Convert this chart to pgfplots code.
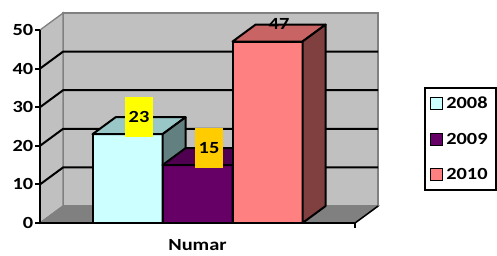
\documentclass[border=0pt]{standalone}
\usepackage{fontspec}
\setmainfont{Carlito}[FakeStretch=1.2]
\usepackage{pgfplots}
\pgfplotsset{compat=1.18}
\definecolor{wall}{HTML}{C0C0C0}
\definecolor{walledge}{HTML}{808080}
\definecolor{floorc}{HTML}{808080}
\definecolor{fA}{HTML}{CCFFFF}\definecolor{tA}{HTML}{99C6C6}\definecolor{sA}{HTML}{628080}
\definecolor{fB}{HTML}{660066}\definecolor{tB}{HTML}{500050}\definecolor{sB}{HTML}{330033}
\definecolor{fC}{HTML}{FF8080}\definecolor{tC}{HTML}{C86464}\definecolor{sC}{HTML}{804040}
\definecolor{labA}{HTML}{FFFF00}\definecolor{labB}{HTML}{FFCC00}
\newcommand\cf{\fontsize{17}{20}\selectfont\bfseries}
\begin{document}
\begin{tikzpicture}
\path[use as bounding box] (-40pt,-32pt) rectangle (457pt,223pt);
\begin{axis}[
 at={(0,0)}, anchor=origin,
 x=70pt, y=3.86pt,
 xmin=0, xmax=4.5, ymin=0, ymax=50,
 axis x line*=bottom, axis y line*=left,
 axis line style={black, line width=2.2pt},
 clip=false, axis on top,
 xtick={4.5}, xticklabels={},
 ytick={0,10,...,50},
 tick align=outside, major tick length=4.5pt,
 tick style={black, line width=2pt},
 yticklabel style={font=\cf, inner xsep=2pt},
 /pgf/number format/assume math mode=true,
 xlabel={Numar},
 xlabel style={font=\cf, at={(axis description cs:0.5,0)}, anchor=base, inner sep=0pt, yshift=-27.5pt},
 legend style={at={(axis description cs:1.219,0.705)}, anchor=north west, draw=black, line width=1.6pt, font=\cf, row sep=19pt, inner xsep=5pt, inner ysep=7pt, nodes={inner xsep=3.5pt}},
 legend cell align=left,
 legend image code/.code={\draw[#1, draw=black, line width=1pt] (0pt,-6pt) rectangle (12pt,6pt);},
]
% walls and floor
\addplot[forget plot, fill=wall, draw=walledge, line width=1.3pt] coordinates {(0.33,4.4)(4.83,4.4)(4.83,54.4)(0.33,54.4)} -- cycle;
\addplot[forget plot, fill=wall, draw=walledge, line width=1.3pt] coordinates {(0,0)(0.33,4.4)(0.33,54.4)(0,50)} -- cycle;
\addplot[forget plot, fill=floorc, draw=walledge, line width=1.3pt] coordinates {(0,0)(4.5,0)(4.83,4.4)(0.33,4.4)} -- cycle;
\addplot[forget plot, black, line width=1.5pt] coordinates {(4.5,0)(4.83,4.4)};
% gridlines
\addplot[forget plot, black, line width=2pt] coordinates {(0,10)(0.33,14.4)(4.83,14.4)};
\addplot[forget plot, black, line width=2pt] coordinates {(0,20)(0.33,24.4)(4.83,24.4)};
\addplot[forget plot, black, line width=2pt] coordinates {(0,30)(0.33,34.4)(4.83,34.4)};
\addplot[forget plot, black, line width=2pt] coordinates {(0,40)(0.33,44.4)(4.83,44.4)};
% bar 2008 = 23
\addplot[forget plot, fill=fA, draw=black, line width=2pt, line join=round] coordinates {(0.75,0)(1.75,0)(1.75,23)(0.75,23)} -- cycle;
\addplot[forget plot, fill=tA, draw=black, line width=2pt, line join=round] coordinates {(0.75,23)(1.75,23)(2.08,27.4)(1.08,27.4)} -- cycle;
\addplot[forget plot, fill=sA, draw=black, line width=2pt, line join=round] coordinates {(1.75,0)(2.08,4.4)(2.08,27.4)(1.75,23)} -- cycle;
% bar 2009 = 15
\addplot[forget plot, fill=fB, draw=black, line width=2pt, line join=round] coordinates {(1.75,0)(2.75,0)(2.75,15)(1.75,15)} -- cycle;
\addplot[forget plot, fill=tB, draw=black, line width=2pt, line join=round] coordinates {(1.75,15)(2.75,15)(3.08,19.4)(2.08,19.4)} -- cycle;
\addplot[forget plot, fill=sB, draw=black, line width=2pt, line join=round] coordinates {(2.75,0)(3.08,4.4)(3.08,19.4)(2.75,15)} -- cycle;
% bar 2010 = 47
\addplot[forget plot, fill=fC, draw=black, line width=2pt, line join=round] coordinates {(2.75,0)(3.75,0)(3.75,47)(2.75,47)} -- cycle;
\addplot[forget plot, fill=tC, draw=black, line width=2pt, line join=round] coordinates {(2.75,47)(3.75,47)(4.08,51.4)(3.08,51.4)} -- cycle;
\addplot[forget plot, fill=sC, draw=black, line width=2pt, line join=round] coordinates {(3.75,0)(4.08,4.4)(4.08,51.4)(3.75,47)} -- cycle;
% data labels
\addplot[forget plot, draw=none, nodes near coords, point meta=y,
  nodes near coords style={font=\cf, anchor=center, yshift=17.5pt, fill=labA, minimum width=28pt, minimum height=40pt, inner sep=0pt}]
  coordinates {(1.415,23)};
\addplot[forget plot, draw=none, nodes near coords, point meta=y,
  nodes near coords style={font=\cf, anchor=center, yshift=17.5pt, fill=labB, minimum width=28pt, minimum height=40pt, inner sep=0pt}]
  coordinates {(2.415,15)};
\addplot[forget plot, draw=none, nodes near coords, point meta=y,
  nodes near coords style={font=\cf, anchor=center, yshift=17.5pt, inner sep=0pt}]
  coordinates {(3.415,47)};
% legend
\addlegendimage{fill=fA}\addlegendentry{2008}
\addlegendimage{fill=fB}\addlegendentry{2009}
\addlegendimage{fill=fC}\addlegendentry{2010}
\end{axis}
\end{tikzpicture}
\end{document}
